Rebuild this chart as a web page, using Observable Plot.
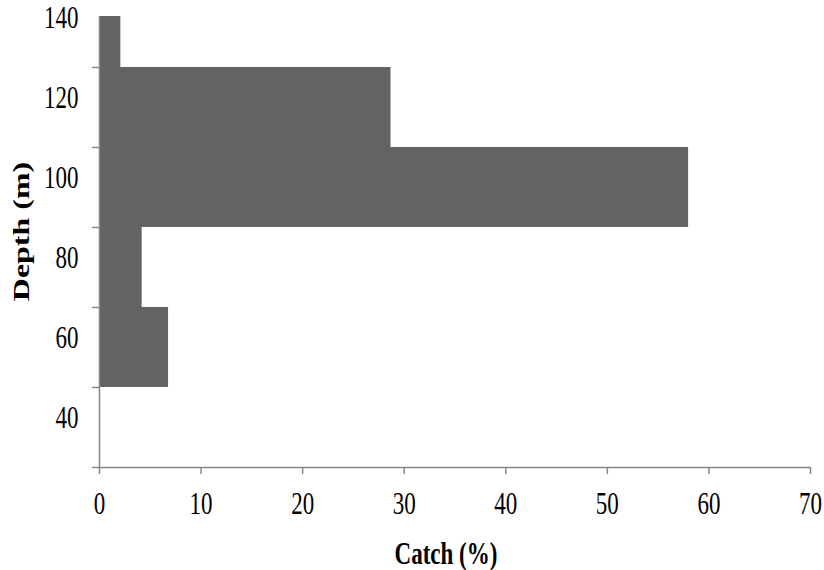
<!DOCTYPE html>
<html><head><meta charset="utf-8">
<script src="https://cdn.jsdelivr.net/npm/d3@7"></script>
<script src="https://cdn.jsdelivr.net/npm/@observablehq/plot@0.6"></script>
<style>body{margin:0;background:#fff}</style></head>
<body><div id="chart"></div>
<script>
const depthLow = [30, 50, 70, 90, 110, 130];
const depthHigh = [50, 70, 90, 110, 130, 150];
const catchPct = [0, 6.8, 4.2, 58, 28.7, 2.1];
const xTicks = [0, 10, 20, 30, 40, 50, 60, 70];
const yTickMarks = [30, 50, 70, 90, 110, 130];
const yTickLabels = [40, 60, 80, 100, 120, 140];
const xLabel = "Catch (%)";
const yLabel = "Depth (m)";

const data = depthLow.map((d, i) => ({y1: d, y2: depthHigh[i], x: catchPct[i]}));
const gray = "#868686";

const chart = Plot.plot({
  width: 824, height: 570,
  marginLeft: 99, marginRight: 14, marginTop: 16, marginBottom: 103,
  style: {fontFamily: "'Liberation Serif', 'Times New Roman', serif", fontSize: "23px", color: "#000", background: "#fff"},
  x: {domain: [0, 70], label: null},
  y: {domain: [30, 142.75], label: null},
  marks: [
    Plot.rectX(data, {x1: 0, x2: "x", y1: "y1", y2: "y2", fill: "#636363", clip: true}),
    Plot.ruleX([0], {stroke: gray, strokeWidth: 1.5}),
    Plot.ruleY([30], {x1: 0, x2: 70, stroke: gray, strokeWidth: 1.5}),
    Plot.axisX(xTicks, {tickSize: 7, tickFormat: () => "", stroke: gray, strokeWidth: 1.5}),
    Plot.axisX(xTicks, {tickSize: 0, tickPadding: 46, fill: "#000"}),
    Plot.axisY(yTickMarks, {tickSize: 7, tickFormat: () => "", stroke: gray, strokeWidth: 1.5}),
    Plot.axisY(yTickLabels, {tickSize: 0, tickPadding: 21, fill: "#000"}),
    Plot.text([yLabel], {text: d => d, frameAnchor: "left", textAnchor: "middle", dx: -71, dy: -10.5, rotate: -90, fontWeight: "bold", fill: "#000"}),
    Plot.text([xLabel], {text: d => d, frameAnchor: "bottom", dx: -9, dy: 96, fontWeight: "bold", fill: "#000"})
  ]
});

// stretch the glyphs vertically as in the reference picture
d3.select(chart).selectAll("text").each(function() {
  const el = d3.select(this);
  const txt = el.text();
  const x = +el.attr("x") || 0, y = +el.attr("y") || 0;
  const t = el.attr("transform") || "";
  el.attr("x", null).attr("y", null);
  if (txt === yLabel) {
    el.attr("transform", `${t} translate(${x},${y}) scale(1.39,1)`);
  } else {
    el.attr("transform", `${t} translate(${x},${y}) scale(1,1.38)`);
  }
});

document.getElementById("chart").appendChild(chart);
</script>
</body></html>
